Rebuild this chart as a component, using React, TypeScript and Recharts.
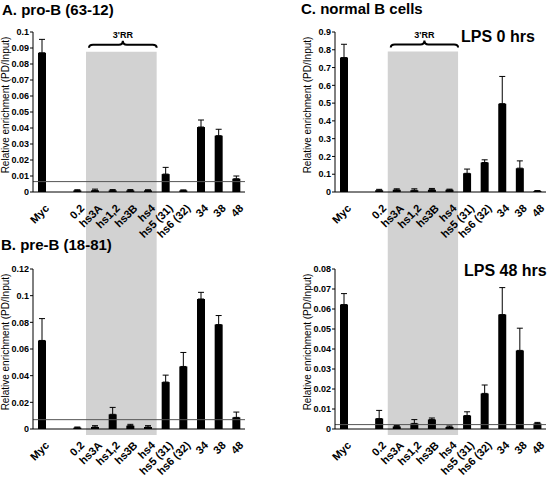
import { BarChart, Bar, XAxis, YAxis, ErrorBar, ReferenceArea, ReferenceLine } from 'recharts'

const FONT = '"Liberation Sans", Arial, Helvetica, sans-serif'

// amplicon sites along the x axis (blank slot between Myc and 0.2)
const sites = ['Myc', '', '0.2', 'hs3A', 'hs1,2', 'hs3B', 'hs4', 'hs5 (31)', 'hs6 (32)', '34', '38', '48']

// A. pro-B (63-12)
const proBValues = [0.087, null, 0.001, 0.001, 0.001, 0.001, 0.001, 0.0112, 0.001, 0.0406, 0.0352, 0.0083]
const proBErrors = [0.0084, null, 0.0004, 0.0008, 0.0005, 0.0005, 0.0004, 0.0042, 0.0003, 0.0044, 0.004, 0.0017]
const proBTicks = [0, 0.01, 0.02, 0.03, 0.04, 0.05, 0.06, 0.07, 0.08, 0.09, 0.1]

// B. pre-B (18-81)
const preBValues = [0.0664, null, 0.001, 0.0015, 0.011, 0.0025, 0.0015, 0.0352, 0.0469, 0.0975, 0.0783, 0.0087]
const preBErrors = [0.0164, null, 0.0005, 0.001, 0.0052, 0.001, 0.001, 0.0052, 0.0105, 0.005, 0.0068, 0.004]
const preBTicks = [0, 0.02, 0.04, 0.06, 0.08, 0.1, 0.12]

// C. normal B cells, LPS 0 hrs
const lps0Values = [0.756, null, 0.01, 0.012, 0.01, 0.013, 0.012, 0.105, 0.166, 0.497, 0.134, 0.005]
const lps0Errors = [0.075, null, 0.005, 0.006, 0.008, 0.007, 0.004, 0.024, 0.015, 0.153, 0.041, 0.003]
const lps0Ticks = [0, 0.1, 0.2, 0.3, 0.4, 0.5, 0.6, 0.7, 0.8, 0.9]

// LPS 48 hrs
const lps48Values = [0.0622, null, 0.0052, 0.0012, 0.0028, 0.0047, 0.001, 0.0067, 0.0178, 0.0572, 0.0393, 0.0027]
const lps48Errors = [0.0055, null, 0.0041, 0.0005, 0.0019, 0.0008, 0.0005, 0.0019, 0.0042, 0.0135, 0.0111, 0.0006]
const lps48Ticks = [0, 0.01, 0.02, 0.03, 0.04, 0.05, 0.06, 0.07, 0.08]

const rows = (values: (number | null)[], errors: (number | null)[]) =>
  sites.map((site, i) => ({
    site,
    value: values[i],
    err: errors[i] == null ? null : [0, errors[i]],
  }))

const fmt = (v: number) => (v === 0 ? '0' : String(+v.toFixed(2)))

function SiteTick({ x, y, payload }: any) {
  const tx = x + 8
  const ty = y + 17
  return (
    <text
      x={tx}
      y={ty}
      transform={`rotate(-45 ${tx} ${ty})`}
      textAnchor="end"
      fontSize={11}
      fontWeight="bold"
      fontFamily={FONT}
      fill="#000"
    >
      {payload.value}
    </text>
  )
}

function Brace({ viewBox }: any) {
  if (!viewBox) return null
  const x0 = viewBox.x + 3
  const x1 = viewBox.x + viewBox.width
  const xc = (x0 + x1) / 2
  const top = viewBox.y
  const yb = top - 4
  const ym = top - 7
  const yt = top - 11
  const d = `M${x0},${yb} Q${x0},${ym} ${x0 + 4},${ym} L${xc - 4},${ym} Q${xc},${ym} ${xc},${yt} Q${xc},${ym} ${xc + 4},${ym} L${x1 - 4},${ym} Q${x1},${ym} ${x1},${yb}`
  return (
    <g>
      <path d={d} fill="none" stroke="#000" strokeWidth={2} />
      <text x={xc} y={top - 14} textAnchor="middle" fontSize={9} fontWeight="bold" fontFamily={FONT} fill="#000">
        3'RR
      </text>
    </g>
  )
}

function YTitle({ viewBox }: any) {
  const x = (viewBox?.x ?? 0) + 9
  const y = (viewBox?.y ?? 32) + (viewBox?.height ?? 160) / 2 - 7
  return (
    <text x={x} y={y} transform={`rotate(-90 ${x} ${y})`} textAnchor="middle" fontSize={10} fontFamily={FONT} fill="#000">
      Relative enrichment (PD/Input)
    </text>
  )
}

interface PanelProps {
  data: ReturnType<typeof rows>
  ticks: number[]
  left: number
  top: number
  height: number
  marginLeft: number
  marginTop: number
  axisHeight: number
  grayTop: number
  grayBottom: number
  baseline?: number
  brace?: boolean
}

function Panel({ data, ticks, left, top, height, marginLeft, marginTop, axisHeight, grayTop, grayBottom, baseline, brace }: PanelProps) {
  const width = left === 0 ? 276 : 277
  return (
    <div style={{ position: 'absolute', left, top, width, height }}>
      <BarChart
        width={width}
        height={height}
        data={data}
        barCategoryGap={0}
        margin={{ top: marginTop, right: left === 0 ? 31 : 7, bottom: 0, left: marginLeft }}
      >
        <ReferenceArea
          x1="hs3A"
          x2="hs4"
          y1={grayBottom}
          y2={grayTop}
          fill="#d2d2d2"
          fillOpacity={1}
          stroke="none"
          ifOverflow="visible"
          label={brace ? { content: (p: any) => <Brace viewBox={p.viewBox} /> } : undefined}
        />
        {baseline != null && <ReferenceLine y={baseline} stroke="#555" strokeWidth={1} ifOverflow="visible" />}
        <XAxis
          dataKey="site"
          interval={0}
          tickLine={false}
          tickSize={0}
          tickMargin={0}
          height={axisHeight}
          axisLine={{ stroke: '#000', strokeWidth: 1 }}
          tick={(p: any) => <SiteTick {...p} />}
        />
        <YAxis
          width={33}
          domain={[ticks[0], ticks[ticks.length - 1]]}
          ticks={ticks}
          interval={0}
          tickFormatter={fmt}
          tickSize={3}
          tickMargin={1}
          axisLine={{ stroke: '#000', strokeWidth: 1 }}
          tickLine={{ stroke: '#000' }}
          tick={{ fontSize: 9, fontWeight: 'bold', fill: '#000', fontFamily: FONT }}
          allowDataOverflow
          label={{ content: (p: any) => <YTitle viewBox={p.viewBox} /> }}
        />
        <Bar dataKey="value" fill="#000" barSize={8} isAnimationActive={false}>
          <ErrorBar dataKey="err" direction="y" width={3} stroke="#000" strokeWidth={1} isAnimationActive={false} />
        </Bar>
      </BarChart>
    </div>
  )
}

const titleStyle = {
  position: 'absolute' as const,
  fontSize: 15,
  lineHeight: '15px',
  fontWeight: 'bold' as const,
  whiteSpace: 'nowrap' as const,
}
const noteStyle = {
  position: 'absolute' as const,
  fontSize: 16,
  lineHeight: '16px',
  fontWeight: 'bold' as const,
  whiteSpace: 'nowrap' as const,
}

export default function App() {
  return (
    <div style={{ position: 'absolute', left: 0, top: 0, width: 553, height: 478, background: '#fff', fontFamily: FONT, color: '#000' }}>
      <style>{'.recharts-surface{overflow:visible}'}</style>
      <Panel data={rows(preBValues, preBErrors)} ticks={preBTicks} left={0} top={238} height={240}
        marginLeft={0} marginTop={31} axisHeight={49} grayTop={0.14325} grayBottom={-0.0045} baseline={0.007} />
      <Panel data={rows(lps48Values, lps48Errors)} ticks={lps48Ticks} left={276} top={238} height={240}
        marginLeft={26} marginTop={31} axisHeight={49} grayTop={0.0955} grayBottom={-0.003} baseline={0.0022} />
      <Panel data={rows(proBValues, proBErrors)} ticks={proBTicks} left={0} top={0} height={238}
        marginLeft={0} marginTop={32} axisHeight={46} grayTop={0.0877} grayBottom={-0.02875} baseline={0.0065} brace />
      <Panel data={rows(lps0Values, lps0Errors)} ticks={lps0Ticks} left={276} top={0} height={238}
        marginLeft={26} marginTop={32} axisHeight={46} grayTop={0.79} grayBottom={-0.259} brace />

      <div style={{ ...titleStyle, left: 2, top: 2 }}>A. pro-B (63-12)</div>
      <div style={{ ...titleStyle, left: 1, top: 237 }}>B. pre-B (18-81)</div>
      <div style={{ ...titleStyle, left: 301, top: 1 }}>C. normal B cells</div>
      <div style={{ ...noteStyle, left: 461, top: 29 }}>LPS 0 hrs</div>
      <div style={{ ...noteStyle, left: 464, top: 263 }}>LPS 48 hrs</div>
    </div>
  )
}
